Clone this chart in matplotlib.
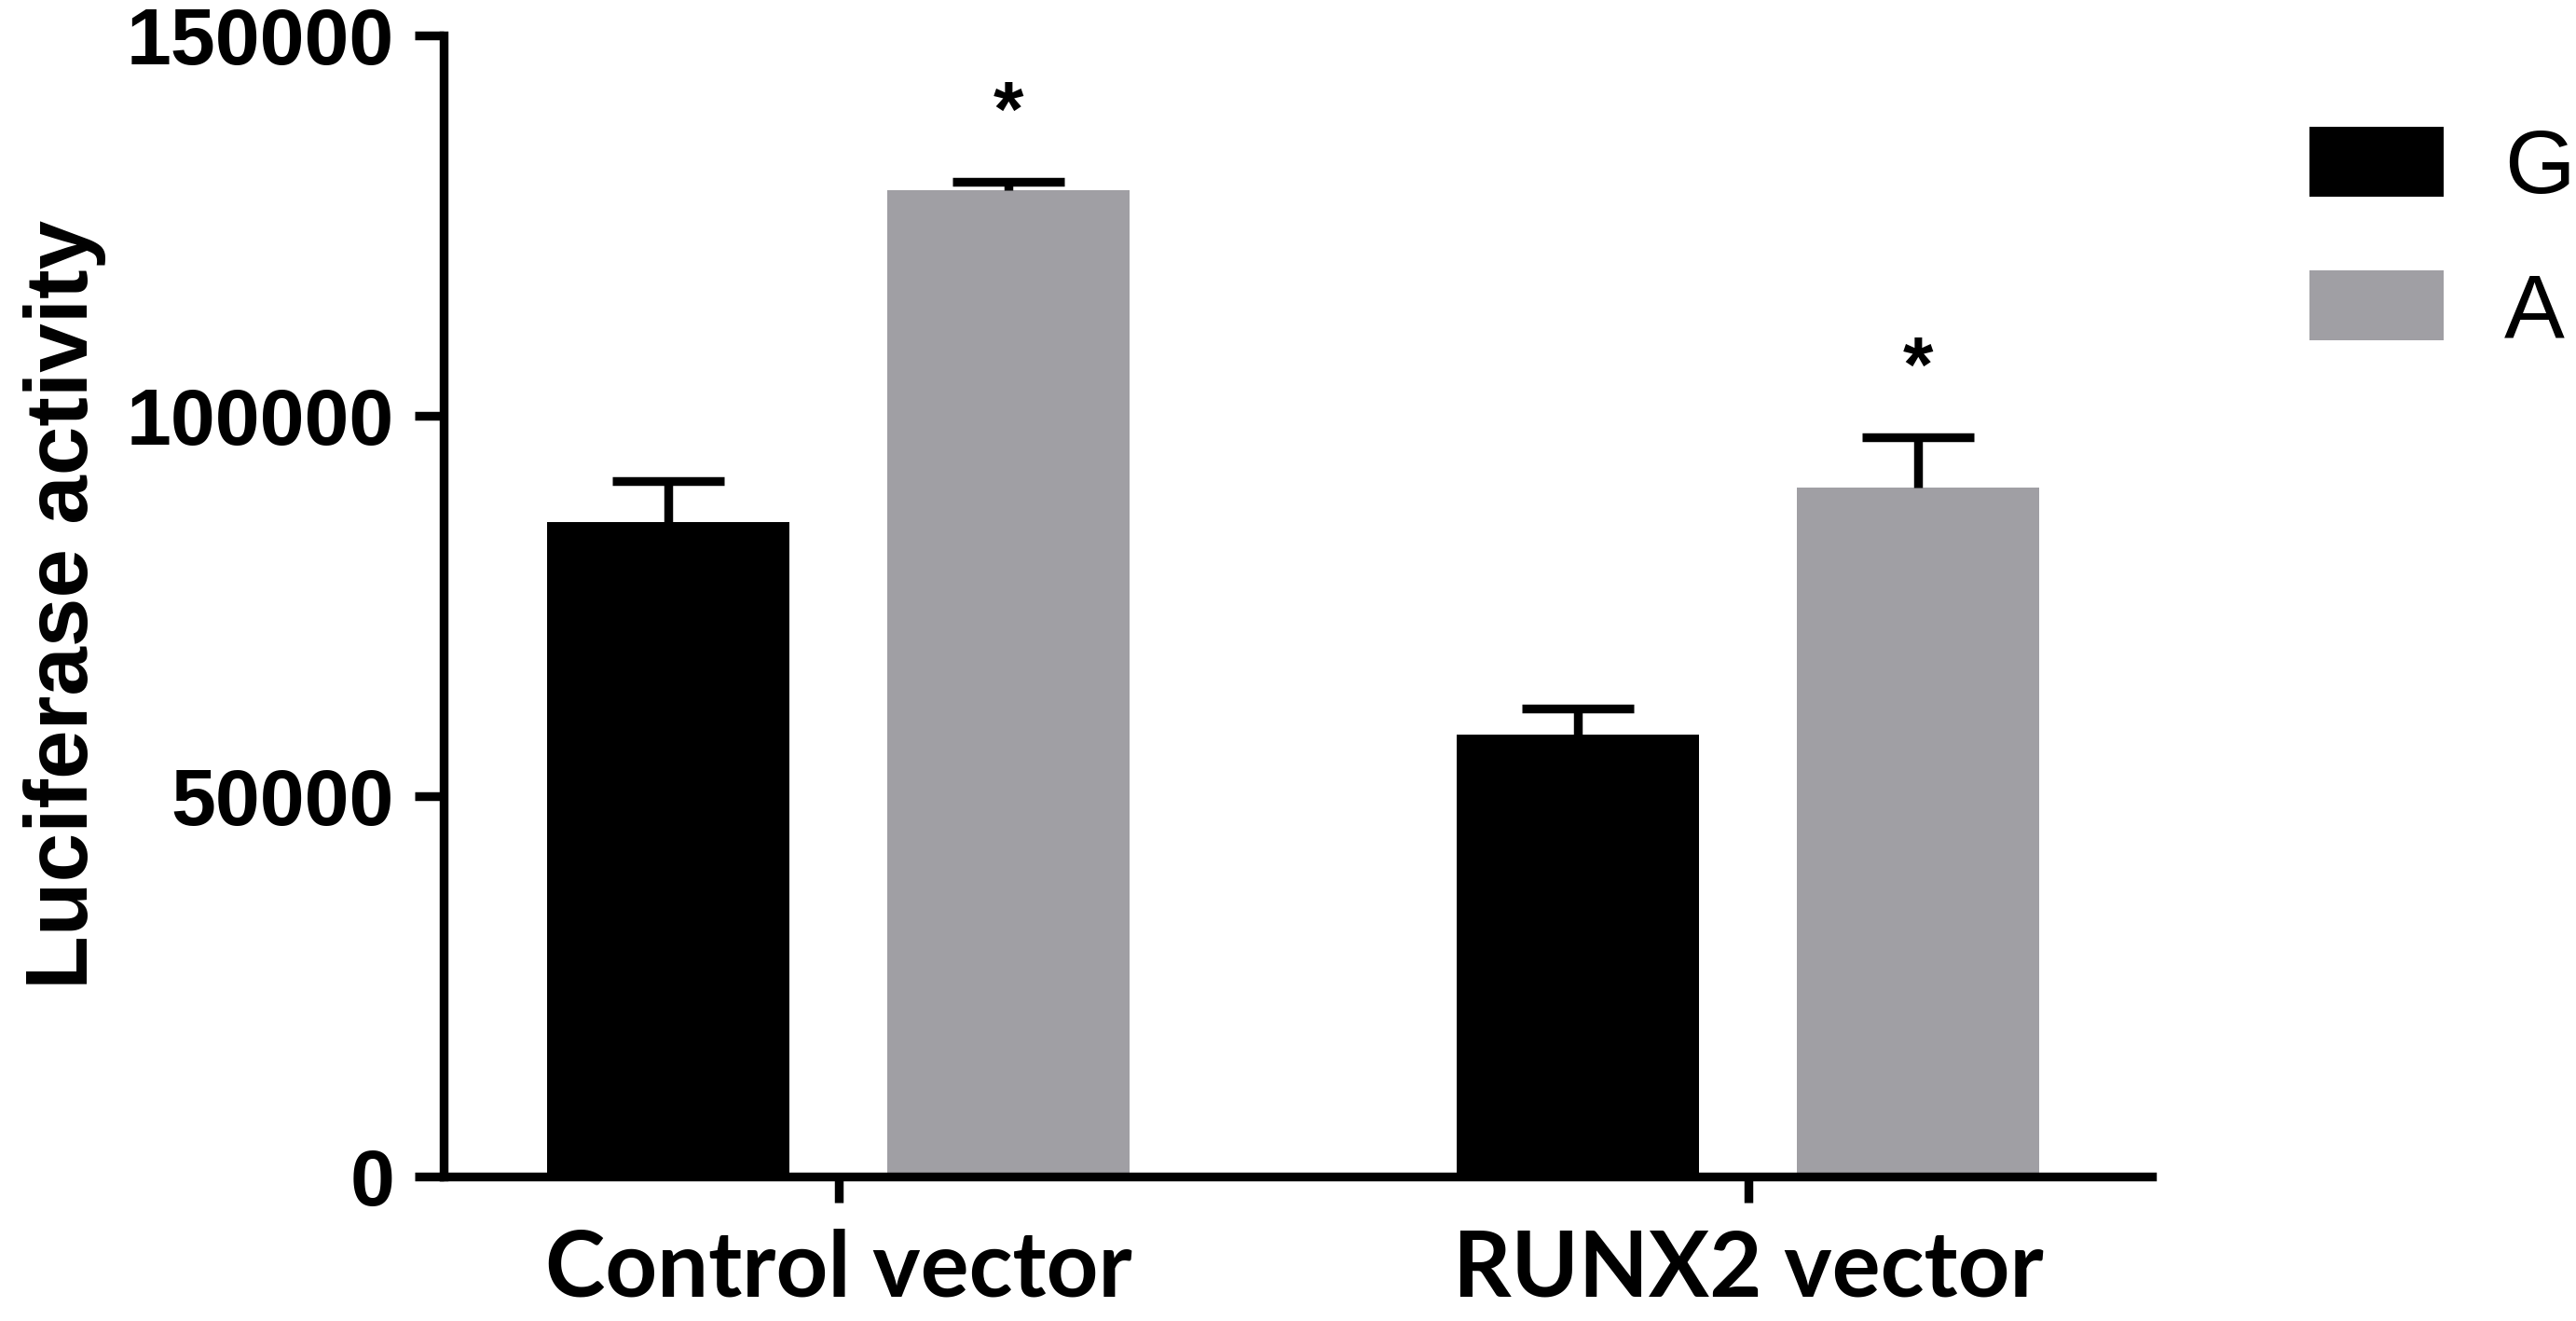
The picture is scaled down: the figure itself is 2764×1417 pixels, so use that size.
'''
Luciferase activity bar chart (G vs A allele)
'''

import numpy as np
import matplotlib.pyplot as plt

#DATA
groups     = ["Control vector", "RUNX2 vector"]
alleles    = ["G", "A"]
g_means    = [86000, 58100]
g_errs     = [5400, 3400]
a_means    = [129600, 90500]
a_errs     = [1200, 6700]
a_signif   = ["*", "*"]
y_ticks    = [0, 50000, 100000, 150000]

#STYLE
g_color    = "#000000"
a_color    = "#A09FA4"
bar_w      = 0.266
offset     = 0.187
lw         = 6.8


def upper_errorbar(ax, xs, means, errs):
    #Draw only the upper half of the error bar (no cap at the bar top)
    eb = ax.errorbar(xs, means, yerr=[np.zeros(len(errs)), errs], fmt='none',
                     ecolor='black', elinewidth=lw, capsize=43, capthick=lw, zorder=3)
    for cap in eb[1]:
        if np.allclose(cap.get_ydata(), means):
            cap.set_visible(False)


def main():
    fig = plt.figure(figsize=(27.64, 14.17), dpi=100)
    ax = fig.add_axes([0.1722, 0.1094, 0.8354 - 0.1722, 0.9732 - 0.1094])

    x = np.arange(len(groups))
    bg = ax.bar(x - offset, g_means, bar_w, color=g_color, label=alleles[0], zorder=2)
    ba = ax.bar(x + offset, a_means, bar_w, color=a_color, label=alleles[1], zorder=2)

    upper_errorbar(ax, x - offset, g_means, g_errs)
    upper_errorbar(ax, x + offset, a_means, a_errs)

    #Significance marks
    for xi, m, e, s in zip(x + offset, a_means, a_errs, a_signif):
        ax.text(xi, m + e + 6000, s, ha='center', va='baseline', fontsize=60,
                family='Liberation Sans', fontweight='bold')

    ax.set_xlim(-0.434, 1.444)
    ax.set_ylim(0, 150000)

    for side in ['top', 'right']:
        ax.spines[side].set_visible(False)
    for side in ['left', 'bottom']:
        ax.spines[side].set_linewidth(lw)

    ax.set_yticks(y_ticks)
    ax.set_yticklabels([str(t) for t in y_ticks], family='Liberation Sans',
                       fontweight='bold', fontsize=62)
    ax.set_xticks(x)
    ax.set_xticklabels(groups, family='Lato', fontweight='bold', fontsize=70)
    ax.tick_params(axis='y', length=22, width=lw, pad=16)
    ax.tick_params(axis='x', length=20, width=lw, pad=20)

    fig.text(0.0253, 0.5427, "Luciferase activity", rotation=90, ha='center', va='center',
             family='Liberation Sans', fontweight='bold', fontsize=68)

    ax.legend(handles=[bg, ba], loc='upper left', bbox_to_anchor=(0.8965, 0.904),
              bbox_transform=fig.transFigure, frameon=False, borderpad=0, borderaxespad=0,
              handlelength=1.48, handleheight=0.81, handletextpad=0.67, labelspacing=0.65,
              prop={'family': 'Liberation Sans', 'size': 70})

    fig.savefig("out.png", dpi=100)


if __name__=="__main__":
    main()
